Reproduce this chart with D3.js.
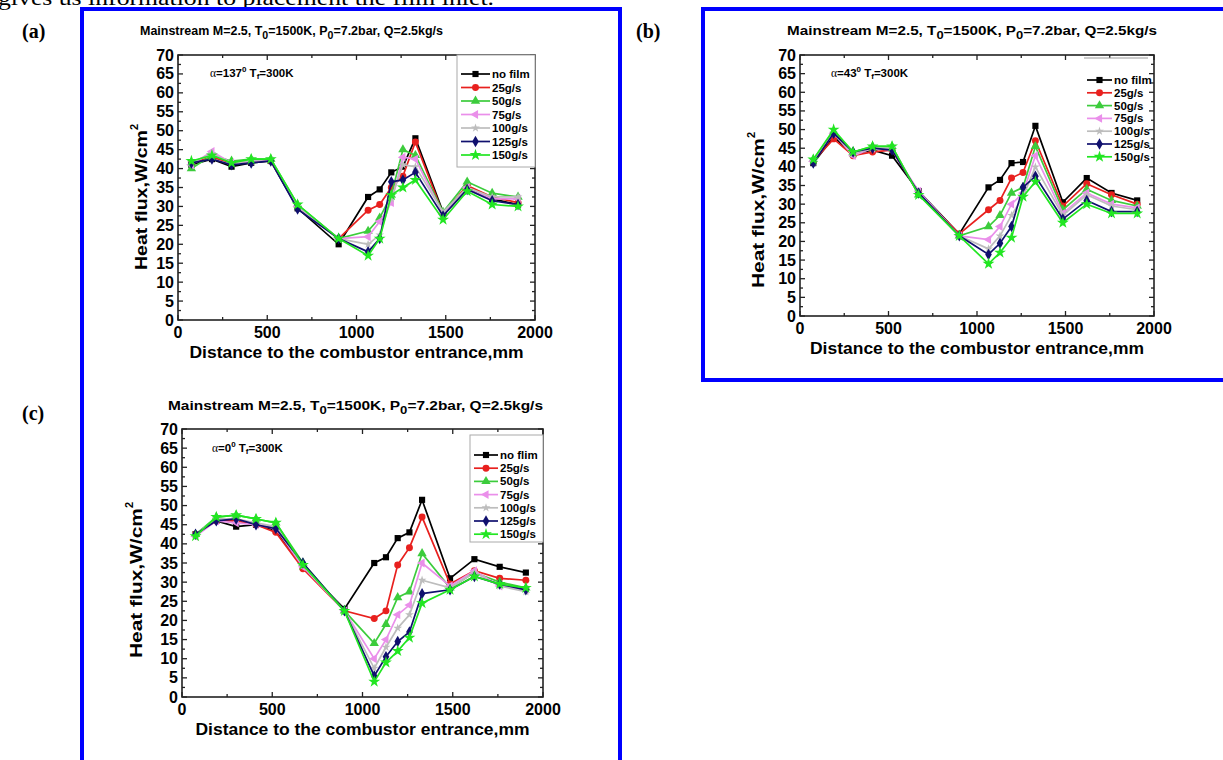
<!DOCTYPE html>
<html>
<head>
<meta charset="utf-8">
<title>Heat flux panels</title>
<script src="https://d3js.org/d3.v7.min.js"></script>
<style>
  body { margin: 0; background: #fff; }
  text { font-family: "Liberation Sans", Arial, sans-serif; font-weight: bold; }
  .serif { font-family: "Liberation Serif", "Times New Roman", serif; }
</style>
</head>
<body>
<svg id="fig" width="1223" height="760"></svg>
<script>
// distances of the measuring points along the combustor (mm)
const distance = [75, 190, 300, 410, 520, 670, 900, 1065, 1130, 1195, 1260, 1330, 1485, 1620, 1760, 1905];

const seriesNames = ["no film", "25g/s", "50g/s", "75g/s", "100g/s", "125g/s", "150g/s"];
const seriesNamesC = ["no flim", "25g/s", "50g/s", "75g/s", "100g/s", "125g/s", "150g/s"];

// (a) alpha = 137 deg
const fluxA = [
  [41, 42.5, 40.5, 41.5, 42, 29.5, 20, 32.5, 34.5, 39, 40.5, 48, 28.5, 35, 32, 30.5],
  [41.5, 43, 41.5, 42, 42, 30, 21.5, 29, 30.5, 35, 38, 47, 28, 35.5, 32.5, 31],
  [40, 43.5, 42, 42.5, 42.5, 30.5, 21.5, 23.5, 27, 33, 45, 43.5, 28.5, 36.5, 33.5, 32.5],
  [41, 44.5, 41.5, 42, 42, 30, 21.5, 22, 26, 31, 43, 42.5, 28, 35, 32, 32],
  [41.5, 44, 41.5, 42, 42.5, 30, 21.5, 20, 22.5, 32, 41, 40.5, 28.5, 35, 32.5, 32.5],
  [41.5, 42.5, 41, 41.5, 42, 29.3, 21.5, 18, 21.5, 36.5, 37, 39, 27.5, 34.5, 31.5, 30.5],
  [42, 43.5, 41.5, 42.5, 42.5, 30.5, 21.5, 17, 21.5, 33, 35, 37, 26.5, 34, 30.5, 30]
];

// (b) alpha = 43 deg
const fluxB = [
  [41, 48, 43.5, 44.5, 43, 33.5, 22, 34.5, 36.5, 41, 41.3, 51, 30.5, 37, 33, 31],
  [41.5, 47.5, 43, 44, 44.5, 33, 22, 28.5, 31, 37, 38.5, 47, 29.5, 35.5, 32.5, 30],
  [42, 49.5, 44, 45.5, 45.5, 32.5, 21.5, 24, 27, 33, 34.5, 45.5, 28.5, 34, 31, 29.5],
  [41.5, 49, 43, 45, 44.5, 33.5, 21.5, 20.5, 24, 30, 33, 43, 27.5, 33, 30, 29],
  [41.5, 49, 43.5, 45, 45, 33, 21.5, 18, 21.5, 27, 32, 40, 27, 32.5, 29.5, 28.5],
  [41, 49, 44, 45, 44.5, 33, 21.5, 16.5, 19.5, 24, 34.5, 37.5, 26, 31, 28, 28],
  [42, 50, 44, 45.5, 45.5, 32.5, 21.5, 14, 17, 21, 32, 36, 25, 30, 27.5, 27.5]
];

// (c) alpha = 0 deg
const fluxC = [
  [42.5, 46, 44.5, 45, 43.5, 34, 23, 35, 36.5, 41.5, 43, 51.5, 31, 36, 34, 32.5],
  [42.5, 46, 46, 45, 43, 33.5, 22.5, 20.5, 22.5, 34.5, 39, 47, 29.5, 33, 31, 30.5],
  [42.5, 47, 47.5, 46.5, 45.5, 35, 22.5, 14, 19, 26, 27.5, 37.5, 28.5, 32.5, 30, 28.5],
  [42, 46, 45.5, 45, 44, 34, 22.5, 10, 15, 21.5, 24, 35, 29, 33, 29, 28],
  [42.5, 46.5, 46.5, 45.5, 44.5, 34.5, 22.5, 7.5, 13, 18, 21.5, 30.5, 28.5, 32.5, 29, 27.5],
  [42.5, 46, 46.5, 45, 44, 35, 22.5, 5.5, 10.5, 14.5, 17, 27, 28, 31.5, 29.5, 28],
  [42, 47, 47.5, 46.5, 45.5, 34.5, 22.5, 4, 9, 12, 15.5, 24.5, 28, 31.5, 29.5, 28.5]
];

const xTicks = [0, 500, 1000, 1500, 2000];
const yTicks = [0, 5, 10, 15, 20, 25, 30, 35, 40, 45, 50, 55, 60, 65, 70];

const colors = ["#000000", "#e8201e", "#3ccc3c", "#ea8fea", "#bdbdbd", "#10106e", "#22e622"];
const shapes = [d3.symbolSquare, d3.symbolCircle, d3.symbolTriangle, d3.symbolTriangle,
                d3.symbolStar, d3.symbolDiamond, d3.symbolStar];
const rotations = [0, 0, 0, -90, 0, 0, 0];
const sizes = [38, 38, 38, 34, 24, 38, 44];

const svg = d3.select("#fig");
svg.append("rect").attr("width", 1223).attr("height", 760).attr("fill", "#fff");

// cut-off line of body text above the figure
svg.append("text").attr("class", "serif")
  .attr("x", -2).attr("y", 5)
  .style("font-weight", "normal").style("font-size", "21px")
  .attr("textLength", 496).attr("lengthAdjust", "spacingAndGlyphs")
  .text("gives us information to placement the film inlet.");

// blue frames
svg.append("rect").attr("x", 82).attr("y", 9).attr("width", 538).attr("height", 770)
  .attr("fill", "none").attr("stroke", "#0000ff").attr("stroke-width", 4);
svg.append("rect").attr("x", 703).attr("y", 9).attr("width", 540).attr("height", 371)
  .attr("fill", "none").attr("stroke", "#0000ff").attr("stroke-width", 4);

// panel letters
[["(a)", 22, 38], ["(b)", 636, 38], ["(c)", 22, 420]].forEach(function(p) {
  svg.append("text").attr("class", "serif")
    .attr("x", p[1]).attr("y", p[2])
    .style("font-size", "20px")
    .text(p[0]);
});

function drawPanel(cfg) {
  const x = d3.scaleLinear().domain([0, 2000]).range([cfg.left, cfg.right]);
  const y = d3.scaleLinear().domain([0, 70]).range([cfg.bottom, cfg.top]);
  const g = svg.append("g");

  // title
  const t = g.append("text")
    .attr("x", cfg.titleX).attr("y", cfg.titleY)
    .style("font-size", cfg.titleSize + "px")
    .attr("textLength", cfg.titleLen).attr("lengthAdjust", "spacingAndGlyphs");
  t.append("tspan").text("Mainstream M=2.5, T");
  t.append("tspan").attr("dy", 4).style("font-size", (cfg.titleSize * 0.85) + "px").text("0");
  t.append("tspan").attr("dy", -4).text("=1500K, P");
  t.append("tspan").attr("dy", 4).style("font-size", (cfg.titleSize * 0.85) + "px").text("0");
  t.append("tspan").attr("dy", -4).text("=7.2bar,  Q=2.5kg/s");

  // frame and inward ticks on all four sides
  const majorLen = 5, minorLen = 3;
  g.append("rect")
    .attr("x", cfg.left).attr("y", cfg.top)
    .attr("width", cfg.right - cfg.left).attr("height", cfg.bottom - cfg.top)
    .attr("fill", "none").attr("stroke", "#222").attr("stroke-width", 1.6);

  d3.range(0, 2001, 250).forEach(function(v) {
    const len = v % 500 === 0 ? majorLen : minorLen;
    g.append("line").attr("x1", x(v)).attr("x2", x(v))
      .attr("y1", cfg.bottom).attr("y2", cfg.bottom - len)
      .attr("stroke", "#222").attr("stroke-width", 1.3);
    g.append("line").attr("x1", x(v)).attr("x2", x(v))
      .attr("y1", cfg.top).attr("y2", cfg.top + len)
      .attr("stroke", "#222").attr("stroke-width", 1.3);
  });
  d3.range(0, 70.1, 2.5).forEach(function(v) {
    const len = v % 5 === 0 ? majorLen : minorLen;
    g.append("line").attr("x1", cfg.left).attr("x2", cfg.left + len)
      .attr("y1", y(v)).attr("y2", y(v))
      .attr("stroke", "#222").attr("stroke-width", 1.3);
    g.append("line").attr("x1", cfg.right).attr("x2", cfg.right - len)
      .attr("y1", y(v)).attr("y2", y(v))
      .attr("stroke", "#222").attr("stroke-width", 1.3);
  });

  g.selectAll(".xt").data(xTicks).enter().append("text")
    .attr("x", function(d) { return x(d); })
    .attr("y", cfg.bottom + 18)
    .attr("text-anchor", "middle")
    .style("font-size", "16px")
    .text(function(d) { return d; });

  g.selectAll(".yt").data(yTicks).enter().append("text")
    .attr("x", cfg.left - 4)
    .attr("y", function(d) { return y(d) + 5.5; })
    .attr("text-anchor", "end")
    .style("font-size", "16px")
    .text(function(d) { return d; });

  // axis titles
  g.append("text")
    .attr("x", (cfg.left + cfg.right) / 2).attr("y", cfg.bottom + 38)
    .attr("text-anchor", "middle")
    .style("font-size", "16px")
    .attr("textLength", 334).attr("lengthAdjust", "spacingAndGlyphs")
    .text("Distance to the combustor entrance,mm");

  const yl = g.append("text")
    .attr("transform", "translate(" + cfg.yTitleX + "," + cfg.yTitleY + ") rotate(-90)")
    .attr("text-anchor", "middle")
    .style("font-size", "17px");
  yl.append("tspan").attr("textLength", cfg.yTitleLen).attr("lengthAdjust", "spacingAndGlyphs")
    .text("Heat flux,W/cm");
  yl.append("tspan").attr("dy", -9).style("font-size", "11px").text("2");

  // annotation
  const an = g.append("text")
    .attr("x", cfg.noteX).attr("y", cfg.noteY)
    .style("font-size", "11.5px");
  an.append("tspan").style("font-family", "'Liberation Serif', serif").style("font-weight", "normal").text("\u03b1");
  an.append("tspan").text("=" + cfg.angle);
  an.append("tspan").attr("dy", -5).style("font-size", "8px").text("0");
  an.append("tspan").attr("dy", 5).text(" T");
  an.append("tspan").attr("dy", 2).style("font-size", "8px").text("f");
  an.append("tspan").attr("dy", -2).text("=300K");

  // data lines and markers
  const line = d3.line()
    .x(function(d) { return x(d[0]); })
    .y(function(d) { return y(d[1]); });

  cfg.data.forEach(function(vals, i) {
    const pts = distance.map(function(d, j) { return [d, vals[j]]; });
    g.append("path").datum(pts)
      .attr("d", line)
      .attr("fill", "none")
      .attr("stroke", colors[i])
      .attr("stroke-width", 1.7);
    g.selectAll(".m" + i).data(pts).enter().append("path")
      .attr("transform", function(d) {
        return "translate(" + x(d[0]) + "," + y(d[1]) + ") rotate(" + rotations[i] + ")";
      })
      .attr("d", d3.symbol().type(shapes[i]).size(sizes[i]))
      .attr("fill", colors[i]);
  });

  // legend
  const lg = g.append("g");
  if (cfg.legendBox) {
    lg.append("rect")
      .attr("x", cfg.legendBox[0]).attr("y", cfg.legendBox[1])
      .attr("width", cfg.right - cfg.legendBox[0]).attr("height", cfg.legendBox[2] - cfg.legendBox[1])
      .attr("fill", "#fff").attr("stroke", "#aaa").attr("stroke-width", 1);
  }
  if (cfg.legendTopLine) {
    lg.append("line")
      .attr("x1", cfg.legendTopLine[0]).attr("x2", cfg.legendTopLine[1])
      .attr("y1", cfg.legendTopLine[2]).attr("y2", cfg.legendTopLine[2])
      .attr("stroke", "#999").attr("stroke-width", 1);
  }
  cfg.names.forEach(function(name, i) {
    const ly = cfg.legendY + i * cfg.legendStep;
    lg.append("line")
      .attr("x1", cfg.legendX).attr("x2", cfg.legendX + cfg.legendLine)
      .attr("y1", ly).attr("y2", ly)
      .attr("stroke", colors[i]).attr("stroke-width", 1.7);
    lg.append("path")
      .attr("transform", "translate(" + (cfg.legendX + cfg.legendLine / 2) + "," + ly + ") rotate(" + rotations[i] + ")")
      .attr("d", d3.symbol().type(shapes[i]).size(sizes[i]))
      .attr("fill", colors[i]);
    lg.append("text")
      .attr("x", cfg.legendX + cfg.legendLine + 2).attr("y", ly + 4)
      .style("font-size", "11.5px")
      .text(name);
  });
}

drawPanel({
  left: 178, right: 535, top: 55, bottom: 320,
  titleX: 140, titleY: 35, titleSize: 12, titleLen: 303,
  yTitleX: 147, yTitleY: 197, yTitleLen: 140,
  noteX: 210, noteY: 77, angle: "137",
  data: fluxA, names: seriesNames,
  legendBox: [457, 55, 167], legendX: 461, legendY: 74, legendStep: 13.5, legendLine: 29
});

drawPanel({
  left: 800, right: 1154, top: 55, bottom: 316,
  titleX: 787, titleY: 35, titleSize: 13, titleLen: 370,
  yTitleX: 764, yTitleY: 210, yTitleLen: 150,
  noteX: 831, noteY: 77, angle: "43",
  data: fluxB, names: seriesNames,
  legendTopLine: [1084, 1148, 58], legendX: 1087, legendY: 80, legendStep: 12.8, legendLine: 25
});

drawPanel({
  left: 182, right: 543, top: 429, bottom: 697,
  titleX: 168, titleY: 410, titleSize: 13, titleLen: 375,
  yTitleX: 142, yTitleY: 580, yTitleLen: 150,
  noteX: 212, noteY: 452, angle: "0",
  data: fluxC, names: seriesNamesC,
  legendBox: [470, 435, 542], legendX: 474, legendY: 455, legendStep: 13.2, legendLine: 24
});
</script>
</body>
</html>
